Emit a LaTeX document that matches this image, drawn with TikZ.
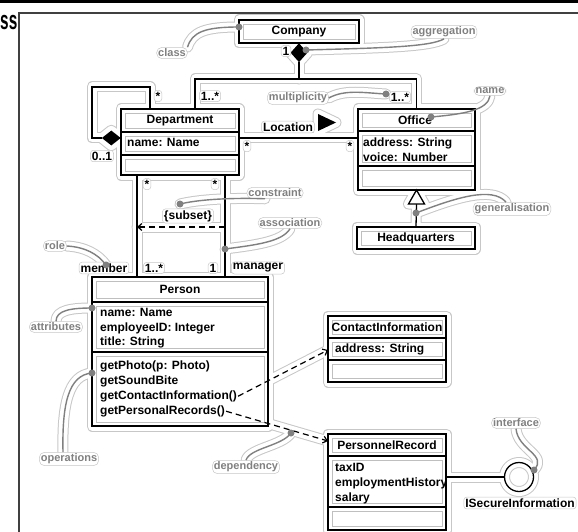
\documentclass[tikz,border=0pt]{standalone}
\usepackage{fontspec}
\setmainfont{Liberation Sans}
\usetikzlibrary{arrows.meta,shapes.geometric,calc}
\pgfdeclarelayer{background}
\pgfsetlayers{background,main}

% class box: name, x1, y1, x2, y2, compartments as ytop/ybottom pairs
\newcommand\classbox[6]{%
  \node[minimum width={#4-#2}, minimum height={#5-#3}, inner sep=0pt, outer sep=0pt,
        anchor=north west, fill=white] (#1) at (#2,#3) {};
  \foreach \ya/\yb in {#6}{%
    \draw[umlinset] ({#2+4},{\ya+4}) rectangle ({#4-4},{\yb-4});
    \draw[boxline] (#2,\ya) rectangle (#4,\yb);
  }%
}

% every connector and annotation curve; drawn once for real, twice more as halo
\newcommand\connectors{%
  % Company composition to Department and Office
  \draw[conline] (cdia.south) -- (cdia.south |- jn);
  \draw[conline] (dept.north -| jn) |- (office.north |- jn) -- (office.north);
  % Location
  \draw[conline] (dept.east |- locy) -- (office.west |- locy);
  % Department self aggregation
  \draw[conline] (ddia.west) -| (loopa) -| (dept.north -| loopb);
  % member / manager
  \draw[conline] (dept.south -| mx) -- (person.north -| mx);
  \draw[conline] (dept.south -| gx) -- (person.north -| gx);
  \draw[depline] (gx |- suby) -- (mx |- suby);
  % generalisation
  \draw[conline] (gbase) -- (hq.north);
  \draw[conline, fill=white] (office.south) -- ++(-8,14) -- ++(16,0) -- cycle;
  % dependencies
  \draw[depline] (op3.east) -- (contact.west |- ctipy);
  \draw[depline] (op4.east) -- (record.west |- rtipy);
  % provided interface
  \draw[conline] (record.east |- iface) -- (iface.west);
  % annotation curves
  \draw[annline] (lclass.north east) .. controls (192,32) and (205,27) .. (dclass);
  \draw[annline] (dagg) .. controls (380,48) and (430,47) .. (lagg.south);
  \draw[annline] (lmult.east) .. controls (345,89) and (365,93) .. (dmult);
  \draw[annline] (lname.south) .. controls (488,110) and (465,114) .. (dname);
  \draw[annline] (dcons) .. controls (205,198) and (245,198) .. ($(lcons.south)+(-10,0)$);
  \draw[annline] (dassoc) .. controls (255,245) and (282,242) .. (lassoc.south);
  \draw[annline] (lrole.east) .. controls (85,247) and (98,254) .. (drole);
  \draw[annline] (lattr.north) .. controls (56,310) and (72,308) .. (dattr);
  \draw[annline] ($(lops.north)+(-6,0)$) .. controls (62,405) and (68,375) .. (dops);
  \draw[annline] (ldep.north) .. controls (250,448) and (282,446) .. (ddep);
  \draw[annline] (dgen) .. controls (455,198) and (492,186) .. ($(lgen.north)+(-6,0)$);
  \draw[annline] (liface.south) .. controls (518,450) and (548,455) .. (diface);
}

\newcommand\halopass[2]{%
  \begin{scope}[line width=#1, draw=#2, fill=#2, line join=round, line cap=round,
                conline/.style={}, depline/.style={}, annline/.style={}]
    \foreach \b in {company,dept,office,hq,person,contact,record}
      \filldraw (\b.north west) rectangle (\b.south east);
    \filldraw (cdia.north) -- (cdia.east) -- (cdia.south) -- (cdia.west) -- cycle;
    \filldraw (ddia.north) -- (ddia.east) -- (ddia.south) -- (ddia.west) -- cycle;
    \filldraw (318,114) -- (336,122.5) -- (318,131) -- cycle;
    \draw (iface.center) circle (14.5pt);
    \connectors
  \end{scope}%
}

\colorlet{annc}{black!50}
\colorlet{haloc}{black!22}
\tikzset{
  boxline/.style={draw=black, line width=1.4pt},
  umlinset/.style={draw=black!25, line width=0.6pt},
  txt/.style={font=\fontsize{12}{15}\selectfont\bfseries, inner sep=1pt},
  multlbl/.style={txt, draw=haloc, line width=0.5pt, rounded corners=3pt, inner sep=1.5pt, fill=white},
  annlabel/.style={font=\fontsize{11}{13}\selectfont\bfseries, text=annc, draw=haloc,
                   line width=0.5pt, rounded corners=5pt, inner sep=1.5pt, fill=white},
  annline/.style={draw=annc, line width=1.4pt},
  conline/.style={draw=black, line width=1.3pt},
  depline/.style={draw=black, line width=1.2pt, dash pattern=on 6pt off 4pt,
                  -{Straight Barb[length=4pt,width=7pt]}},
}

\begin{document}
\begin{tikzpicture}[x=1pt, y=-1pt]
\useasboundingbox (0,0) rectangle (578,532);

% page decoration: top rule, cut title, frame
\draw[line width=3pt] (0,1.5) -- (578,1.5);
\node[anchor=east, inner sep=0pt] (title) at (17.5,23)
  {\scalebox{0.64}[1.1]{\fontsize{24}{24}\selectfont\bfseries ss}};
\draw[line width=1.3pt, black!75] (578,13) -- (19,13) -- (19,532);

% helper coordinates
\coordinate (jn) at (195,79);
\coordinate (locy) at (0,138);
\coordinate (loopa) at (92,87);
\coordinate (loopb) at (150,0);
\coordinate (mx) at (137,0);
\coordinate (gx) at (225,0);
\coordinate (suby) at (0,227);
\coordinate (ctipy) at (0,350);
\coordinate (rtipy) at (0,441);

% classes
\classbox{company}{239}{20}{359}{43}{20/43}
\classbox{dept}{121}{109}{239}{175}{109/132,132/155,155/175}
\classbox{office}{358}{109}{475}{190}{109/131,131/166,166/190}
\classbox{hq}{357}{227}{475}{249}{227/249}
\classbox{person}{92}{277}{268}{426}{277/302,302/352,352/426}
\classbox{contact}{328}{316}{446}{382}{316/338,338/360,360/382}
\classbox{record}{328}{434}{446}{530}{434/456,456/507,507/530}
\coordinate (gbase) at ($(office.south)+(0,14)$);

% class texts
\node[txt] (tcompany) at (299,31.5) {Company};
\node[txt] (tdept) at (180,120.5) {Department};
\node[txt, anchor=base west] (da1) at (126,146.3) {name: Name};
\node[txt] (toffice) at (415,120) {Office};
\node[txt, anchor=base west] (oa1) at (362,146.3) {address: String};
\node[txt, anchor=base west] (oa2) at (362,161.3) {voice: Number};
\node[txt] (thq) at (416,238) {Headquarters};
\node[txt] (tperson) at (180,289.5) {Person};
\node[txt, anchor=base west] (pa1) at (99,316.3) {name: Name};
\node[txt, anchor=base west] (pa2) at (99,331.3) {employeeID: Integer};
\node[txt, anchor=base west] (pa3) at (99,345.8) {title: String};
\node[txt, anchor=base west] (op1) at (99,369.3) {getPhoto(p: Photo)};
\node[txt, anchor=base west] (op2) at (99,384.3) {getSoundBite};
\node[txt, anchor=base west] (op3) at (99,399.3) {getContactInformation()};
\node[txt, anchor=base west] (op4) at (99,414.3) {getPersonalRecords()};
\node[txt] (tcontact) at (387,327) {ContactInformation};
\node[txt, anchor=base west] (ca1) at (334,352.5) {address: String};
\node[txt] (trecord) at (387,445) {PersonnelRecord};
\node[txt, anchor=base west] (ra1) at (334,471.3) {taxID};
\node[txt, anchor=base west] (ra2) at (334,486.3) {employmentHistory};
\node[txt, anchor=base west] (ra3) at (334,501.3) {salary};

% diamonds, navigation triangle, interface circle
\node[diamond, fill=black, inner sep=0pt, minimum width=17pt, minimum height=19pt,
      anchor=north] (cdia) at (company.south) {};
\node[diamond, fill=black, inner sep=0pt, minimum width=19pt, minimum height=15pt,
      anchor=east] (ddia) at (dept.west |- locy) {};
\fill (318,114) -- (336,122.5) -- (318,131) -- cycle;
\node[circle, draw, line width=1.3pt, minimum size=29pt, inner sep=0pt] (iface) at (519,477) {};

% multiplicities, role names and other labels
\node[multlbl] (m1) at (286,51) {1};
\node[multlbl] (m2) at (210,96) {1..*};
\node[multlbl] (m3) at (400,97) {1..*};
\node[multlbl] (m4) at (158,96) {*};
\node[multlbl] (m5) at (102,156) {0..1};
\node[multlbl] (m6) at (247,146) {*};
\node[multlbl] (m7) at (350,146) {*};
\node[multlbl] (m8) at (147,184) {*};
\node[multlbl] (m9) at (215,184) {*};
\node[multlbl] (m10) at (154,268) {1..*};
\node[multlbl] (m11) at (213,268) {1};
\node[multlbl] (rmember) at (104,268) {member};
\node[multlbl] (rmanager) at (258,268) {manager};
\node[multlbl] (locl) at (288,127) {Location};
\node[multlbl] (subset) at (188,216) {\{subset\}};
\node[multlbl] (iname) at (520,503) {ISecureInformation};

% annotation labels
\node[annlabel] (lclass) at (172,53) {class};
\node[annlabel] (lagg) at (444,32) {aggregation};
\node[annlabel] (lmult) at (298,98) {multiplicity};
\node[annlabel] (lname) at (490,91) {name};
\node[annlabel] (lcons) at (275,193) {constraint};
\node[annlabel] (lassoc) at (290,223) {association};
\node[annlabel] (lrole) at (55,246) {role};
\node[annlabel] (lattr) at (56,327) {attributes};
\node[annlabel] (lops) at (69,459) {operations};
\node[annlabel] (ldep) at (246,467) {dependency};
\node[annlabel] (lgen) at (512,209) {generalisation};
\node[annlabel] (liface) at (516,423) {interface};

% annotation anchor points
\coordinate (dclass) at (239,27);
\coordinate (dagg) at (306,50);
\coordinate (dmult) at (386,94);
\coordinate (dname) at (431,117);
\coordinate (dcons) at (180,204);
\coordinate (dassoc) at (225,249);
\coordinate (drole) at (106,265);
\coordinate (dattr) at (92,308);
\coordinate (dops) at (92,373);
\coordinate (ddep) at (291,433);
\coordinate (dgen) at (416,213);
\coordinate (diface) at (534,470);

\connectors
\foreach \d in {dclass,dagg,dmult,dname,dcons,dassoc,drole,dattr,dops,ddep,dgen,diface}
  \fill[annc] (\d) circle (3.5pt);

% soft outlines around everything
\begin{pgfonlayer}{background}
  \halopass{11pt}{haloc}
  \halopass{9pt}{white}
\end{pgfonlayer}
\end{tikzpicture}
\end{document}
